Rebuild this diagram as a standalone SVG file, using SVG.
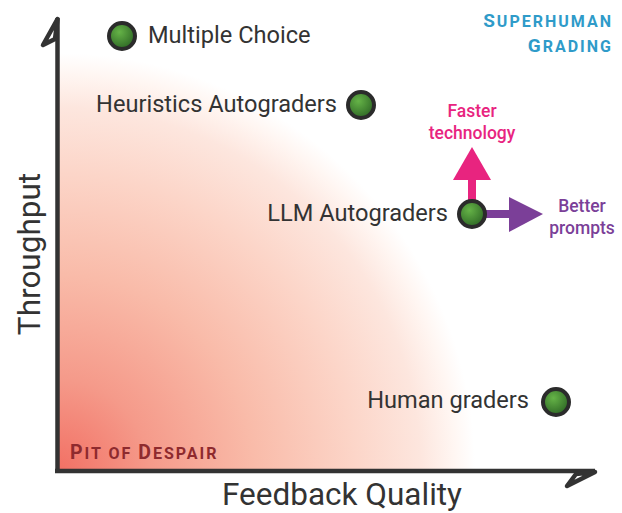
<svg xmlns="http://www.w3.org/2000/svg" width="622" height="513" viewBox="0 0 622 513">
<defs>
<radialGradient id="pit" gradientUnits="userSpaceOnUse" cx="57" cy="471" r="418">
<stop offset="0" stop-color="#f27064"/>
<stop offset="0.22" stop-color="#f59a8a"/>
<stop offset="0.47" stop-color="#f9bba9"/>
<stop offset="0.71" stop-color="#fcd5c8"/>
<stop offset="0.87" stop-color="#fde6de"/>
<stop offset="0.95" stop-color="#fff6f2"/>
<stop offset="1" stop-color="#ffffff"/>
</radialGradient>
<radialGradient id="ball" cx="0.4" cy="0.35" r="0.7">
<stop offset="0" stop-color="#65b347"/>
<stop offset="1" stop-color="#2c6524"/>
</radialGradient>
</defs>
<style>
.lbl{font-family:Roboto,"Liberation Sans",sans-serif;font-size:23.6px;fill:#333}
.axl{font-family:Roboto,"Liberation Sans",sans-serif;font-size:31.5px;fill:#333}
.sc{font-family:Roboto,"Liberation Sans",sans-serif;font-weight:bold;letter-spacing:2px}
.note{font-family:Roboto,"Liberation Sans",sans-serif;font-weight:500;font-size:17.5px;text-anchor:middle}
.ball{fill:url(#ball);stroke:#2b2b2b;stroke-width:4}
.ax{fill:none;stroke:#333;stroke-width:4.5;stroke-linejoin:round;stroke-linecap:butt}
</style>
<rect x="59" y="30" width="470" height="439" fill="url(#pit)"/>
<g id="axes">
<path class="ax" d="M57.5,473 V18"/>
<path class="ax" d="M57.5,19 L43,45 L55,39 Z"/>
<path class="ax" d="M55,471 H595"/>
<path class="ax" d="M595,472 L567,486 L576,474 Z"/>
<text class="axl" text-anchor="middle" transform="translate(40,254) rotate(-90)">Throughput</text>
<text class="axl" x="342" y="505" text-anchor="middle">Feedback Quality</text>
</g>
<g id="pit-of-despair">
<text class="sc" x="70" y="459" fill="#8e2a2e"><tspan font-size="19.5">P</tspan><tspan font-size="16">IT OF </tspan><tspan font-size="19.5">D</tspan><tspan font-size="16">ESPAIR</tspan></text>
</g>
<g id="superhuman-grading">
<text class="sc" x="613" y="27" fill="#2f9bc9" text-anchor="end"><tspan font-size="19">S</tspan><tspan font-size="16">UPERHUMAN</tspan></text>
<text class="sc" x="613" y="52" fill="#2f9bc9" text-anchor="end"><tspan font-size="19">G</tspan><tspan font-size="16">RADING</tspan></text>
</g>
<g id="connectors">
<g id="faster-technology-arrow" fill="#e8247f">
<rect x="468" y="178" width="8" height="36"/>
<polygon points="453,180 472,147 491,180"/>
</g>
<g id="better-prompts-arrow" fill="#7b3f98">
<rect x="472" y="210" width="39" height="8"/>
<polygon points="509,197 543,214 509,232"/>
</g>
</g>
<g id="multiple-choice">
<circle class="ball" cx="122" cy="36" r="13"/>
<text class="lbl" x="148" y="43">Multiple Choice</text>
</g>
<g id="heuristics-autograders">
<circle class="ball" cx="361" cy="105" r="13"/>
<text class="lbl" x="337" y="112" text-anchor="end">Heuristics Autograders</text>
</g>
<g id="llm-autograders">
<circle class="ball" cx="472" cy="214" r="13"/>
<text class="lbl" x="448" y="221" text-anchor="end">LLM Autograders</text>
</g>
<g id="human-graders">
<circle class="ball" cx="556" cy="402" r="13"/>
<text class="lbl" x="529" y="408" text-anchor="end">Human graders</text>
</g>
<g id="faster-technology-label">
<text class="note" fill="#e8247f"><tspan x="472" y="117">Faster</tspan><tspan x="472" y="139">technology</tspan></text>
</g>
<g id="better-prompts-label">
<text class="note" fill="#7b3f98"><tspan x="582" y="212">Better</tspan><tspan x="582" y="234">prompts</tspan></text>
</g>
</svg>
